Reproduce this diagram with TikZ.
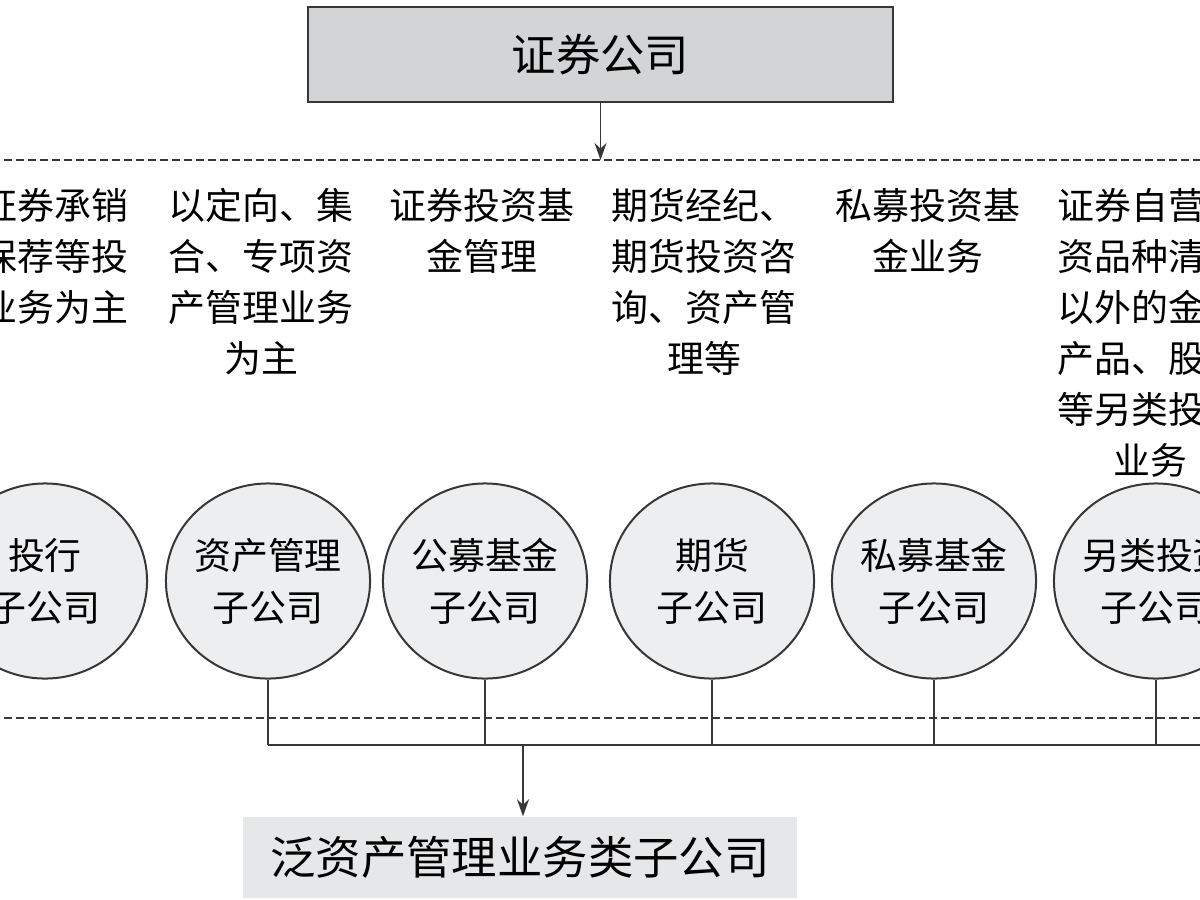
\documentclass[tikz,border=0pt]{standalone}
\usepackage{fontspec}
\newfontfamily\cjk{Noto Sans CJK SC}
\usepackage{tikz}
\usetikzlibrary{shapes.geometric, arrows.meta}
\definecolor{topgray}{RGB}{211,212,214}
\definecolor{subgray}{RGB}{237,238,240}
\definecolor{basegray}{RGB}{230,231,233}
\definecolor{inkgray}{RGB}{55,55,55}
\tikzstyle{parent} = [rectangle, minimum width=5.85cm, minimum height=0.95cm, text centered, draw=inkgray, line width=0.02cm, fill=topgray, font=\cjk\fontsize{12.6}{15}\selectfont]
\tikzstyle{subco} = [ellipse, minimum width=2.04cm, minimum height=1.95cm, inner sep=-0.1cm, align=center, draw=inkgray, line width=0.02cm, fill=subgray, font=\cjk\fontsize{10.5}{14.8}\selectfont]
\tikzstyle{remit} = [anchor=north, inner sep=0pt, align=center, font=\cjk\fontsize{10.5}{14.5}\selectfont]
\tikzstyle{group} = [rectangle, minimum width=5.54cm, minimum height=0.81cm, text centered, fill=basegray, font=\cjk\fontsize{12.9}{15}\selectfont]
\tikzstyle{arrow} = [line width=0.017cm, draw=inkgray, -{Stealth[length=0.17cm, width=0.12cm]}]
\tikzstyle{link} = [line width=0.017cm, draw=inkgray]
\tikzstyle{divider} = [line width=0.015cm, draw=inkgray, dash pattern=on 0.08cm off 0.04cm]

\begin{document}
\begin{tikzpicture}[x=0.01cm, y=-0.01cm]
	\useasboundingbox (0,0) rectangle (1200,900);
	\clip (0,0) rectangle (1200,900);

	\node (sec) [parent] at (600.5,54.5) {证券公司};

	% dashed bands
	\coordinate (topL) at (-20,160);
	\coordinate (topR) at (1220,160);
	\coordinate (lowL) at (-20,718);
	\coordinate (lowR) at (1220,718);
	\draw [divider] (topL) -- (topR);
	\draw [divider] (lowL) -- (lowR);

	% business scope of each subsidiary
	\node (r1) [remit] at (36,188) {以证券承销\\与保荐等投\\行业务为主};
	\node (r2) [remit] at (261,188) {以定向、集\\合、专项资\\产管理业务\\为主};
	\node (r3) [remit] at (482,188) {证券投资基\\金管理};
	\node (r4) [remit] at (704,188) {期货经纪、\\期货投资咨\\询、资产管\\理等};
	\node (r5) [remit] at (928,188) {私募投资基\\金业务};
	\node (r6) [remit] at (1150,188) {证券自营投\\资品种清单\\以外的金融\\产品、股权\\等另类投资\\业务};

	% subsidiaries
	\node (s1) [subco] at (45,581) {投行\\子公司};
	\node (s2) [subco] at (268,581) {资产管理\\子公司};
	\node (s3) [subco] at (485,581) {公募基金\\子公司};
	\node (s4) [subco] at (712,581) {期货\\子公司};
	\node (s5) [subco] at (934,581) {私募基金\\子公司};
	\node (s6) [subco] at (1156,581) {另类投资\\子公司};

	\node (pan) [group] at (520,857.5) {泛资产管理业务类子公司};

	\coordinate (busL) at (268,745);
	\coordinate (busR) at (1220,745);
	\coordinate (drop) at (523,745);

	\draw [arrow] (sec.south) -- (sec.south |- topL);
	\draw [link] (s2.south) -- (s2.south |- busL);
	\draw [link] (s3.south) -- (s3.south |- busL);
	\draw [link] (s4.south) -- (s4.south |- busL);
	\draw [link] (s5.south) -- (s5.south |- busL);
	\draw [link] (s6.south) -- (s6.south |- busL);
	\draw [link] (busL) -- (busR);
	\draw [arrow] (drop) -- (drop |- pan.north);
\end{tikzpicture}
\end{document}
